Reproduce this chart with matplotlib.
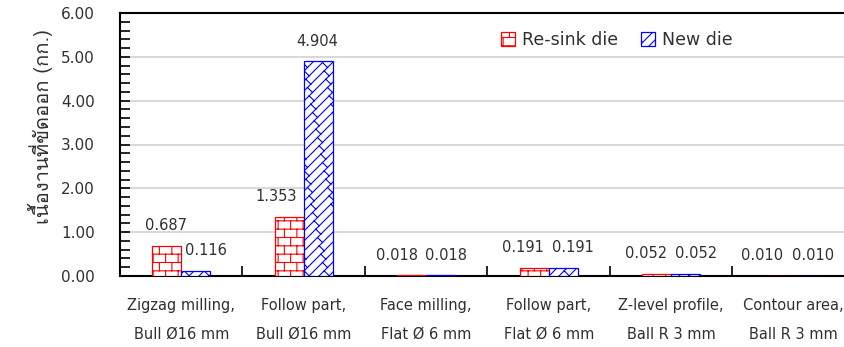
import warnings
import numpy as np
import matplotlib
matplotlib.use('Agg')
import matplotlib.pyplot as plt
import matplotlib.hatch as mhatch
from matplotlib.path import Path
from matplotlib import font_manager
from matplotlib.ft2font import FT2Font

warnings.filterwarnings('ignore')

categories = ['Zigzag milling,\nBull Ø16 mm', 'Follow part,\nBull Ø16 mm',
              'Face milling,\nFlat Ø 6 mm', 'Follow part,\nFlat Ø 6 mm',
              'Z-level profile,\nBall R 3 mm', 'Contour area,\nBall R 3 mm']
resink = [0.687, 1.353, 0.018, 0.191, 0.052, 0.010]
newdie = [0.116, 4.904, 0.018, 0.191, 0.052, 0.010]
ylabel = 'เนื้องานที่ขัดออก (กก.)'

# label nudges (pixels), like the hand-placed labels of the original
red_dx = [-1, -13, -15, -11, -11, -17]
blue_dx = [10, -1, 5, 10, 10, 5]


# brick hatch ('b') and diagonal brick hatch ('k')
class BrickHatch(mhatch.HatchPatternBase):
    def __init__(self, hatch, density):
        self.rows = 12 * hatch.count('b')
        self.cols = 8
        self.num_vertices = (self.rows * 2 + self.rows * self.cols * 2) if self.rows else 0

    def set_vertices_and_codes(self, vertices, codes):
        segs = []
        for i in range(self.rows):
            y0 = (i + 0.5) / self.rows
            y1 = (i + 1.5) / self.rows
            segs.append(((0, y0), (1, y0)))
            off = 0.5 / self.cols if i % 2 else 0.0
            for j in range(self.cols):
                x = (j + 0.25) / self.cols + off
                segs.append(((x, y0), (x, y1)))
        vertices[:] = np.array(segs).reshape(-1, 2)
        codes[0::2] = Path.MOVETO
        codes[1::2] = Path.LINETO


class DiagBrickHatch(mhatch.HatchPatternBase):
    def __init__(self, hatch, density):
        self.n = 10 * hatch.count('k')
        self.m = 6
        self.segs = []
        if self.n:
            n, m = self.n, self.m
            for k in range(-n, n + 1):
                c = (k + 0.5) / n
                self.segs.append(((c - 1, -1), (c + 2, 2)))
                for j in range(-m - 2, 2 * m + 2):
                    t = (j + 0.5 * (k % 2) + 0.25) / m
                    p0 = (t + c, t)
                    p1 = (t + c + 0.5 / n, t - 0.5 / n)
                    if -0.2 < p0[0] < 1.2 and -0.2 < p0[1] < 1.2:
                        self.segs.append((p0, p1))
        self.num_vertices = len(self.segs) * 2

    def set_vertices_and_codes(self, vertices, codes):
        vertices[:] = np.array(self.segs).reshape(-1, 2)
        codes[0::2] = Path.MOVETO
        codes[1::2] = Path.LINETO


mhatch._hatch_types.append(BrickHatch)
mhatch._hatch_types.append(DiagBrickHatch)

# find a font that has Thai glyphs
thai_font = 'DejaVu Sans'
for f in font_manager.fontManager.ttflist:
    try:
        if FT2Font(f.fname).get_char_index(0x0E40):
            thai_font = f.name
            break
    except Exception:
        pass

plt.rcParams['font.family'] = ['DejaVu Sans']
plt.rcParams['hatch.linewidth'] = 0.8
txt = '#303030'

fig = plt.figure(figsize=(8.45, 3.47), dpi=100)
ax = fig.add_axes([120 / 845, 71 / 347, 735 / 845, 263 / 347])

x = np.arange(len(categories))
w = 0.235
ax.bar(x - w / 2, resink, w, color='white', edgecolor='#ff0000', hatch='b',
       linewidth=0.9, label='Re-sink die', zorder=3)
ax.bar(x + w / 2, newdie, w, color='white', edgecolor='#0000ff', hatch='k',
       linewidth=0.9, label='New die', zorder=3)

for i in range(len(categories)):
    ax.annotate(f'{resink[i]:.3f}', (x[i] - w / 2, resink[i]), xytext=(red_dx[i], 20),
                textcoords='offset pixels', ha='center', va='center', fontsize=10.5, color=txt)
    ax.annotate(f'{newdie[i]:.3f}', (x[i] + w / 2, newdie[i]), xytext=(blue_dx[i], 20),
                textcoords='offset pixels', ha='center', va='center', fontsize=10.5, color=txt)

ax.set_xlim(-0.5, len(categories) - 0.5)
ax.set_ylim(0, 6)
ax.set_yticks(np.arange(0, 6.01, 1.0))
ax.set_yticklabels([f'{v:.2f}' for v in np.arange(0, 6.01, 1.0)])
ax.set_yticks(np.arange(0, 6.01, 0.2), minor=True)
ax.tick_params(axis='y', which='both', direction='in', length=7, width=1.2,
               labelsize=11, labelcolor=txt, pad=18)

ax.set_xticks(np.arange(-0.5, len(categories), 1.0))
ax.set_xticklabels([])
ax.set_xticks(x, minor=True)
ax.set_xticklabels(categories, minor=True, fontsize=10.5, linespacing=2.15)
ax.tick_params(axis='x', which='major', direction='in', length=7, width=1.2)
ax.tick_params(axis='x', which='minor', length=0, pad=16, labelcolor=txt)

ax.grid(axis='y', which='major', color='#d9d9d9', linewidth=1.5, zorder=0)
ax.set_axisbelow(True)
for s in ['left', 'bottom', 'top', 'right']:
    ax.spines[s].set_linewidth(1.5)
    ax.spines[s].set_color('black')

ax.set_ylabel(ylabel, family=[thai_font, 'DejaVu Sans'], fontsize=14.5, color=txt)
ax.yaxis.set_label_coords(-0.091, 0.57)

ax.legend(loc='center', bbox_to_anchor=(0.676, 0.897), ncol=2, frameon=False,
          fontsize=12.5, handlelength=0.8, handleheight=0.8, handletextpad=0.4,
          columnspacing=1.3, labelcolor=txt)

fig.savefig('out.png', dpi=100)
